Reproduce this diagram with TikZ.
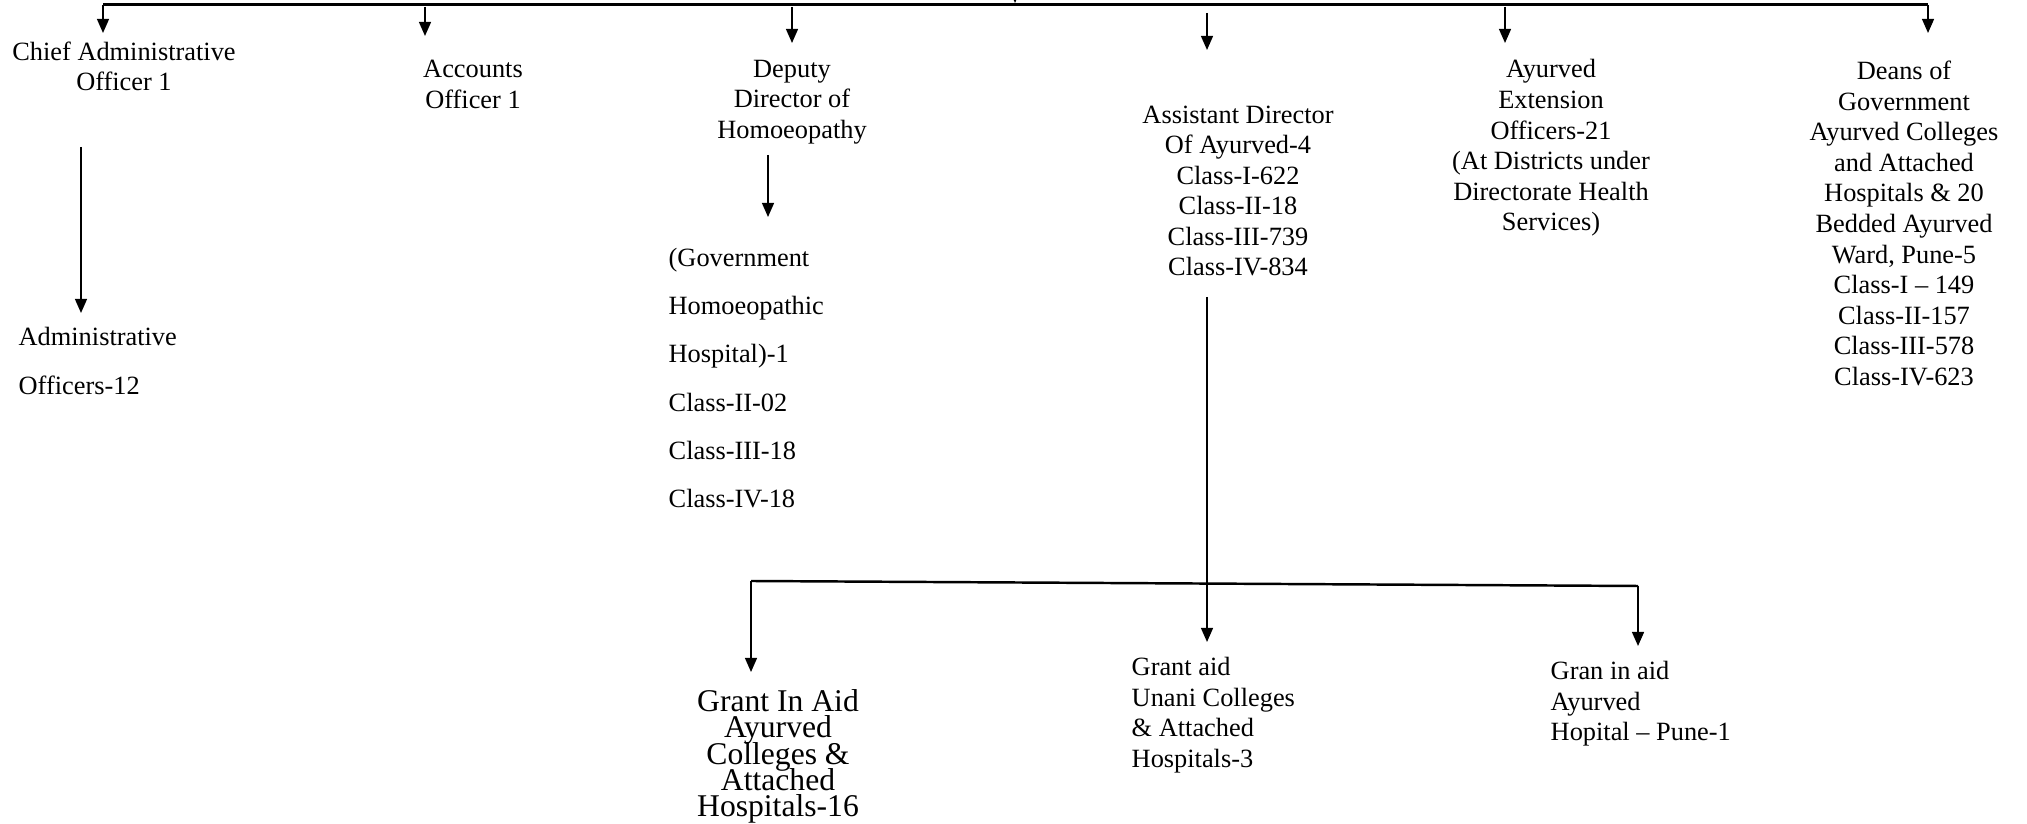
\documentclass[tikz,border=0pt]{standalone}
\usepackage{fontspec}
\setmainfont{Liberation Serif}
\usetikzlibrary{calc,arrows.meta}
\newcommand{\grantfont}{\fontsize{9}{7.5}\selectfont\setlength{\lineskiplimit}{-20pt}}

\begin{document}
\begin{tikzpicture}[
    txt/.style={inner sep=0pt, align=center, font=\fontsize{7.5}{8.7}\selectfont},
    txtl/.style={inner sep=0pt, align=left, font=\fontsize{7.5}{8.7}\selectfont},
    wide/.style={inner sep=0pt, align=left, font=\fontsize{7.5}{13.7}\selectfont},
    arr/.style={-{Triangle[length=4pt,width=3.4pt]}, line width=0.45pt}]
      \useasboundingbox (0,0) rectangle (20.27,-8.24);
      % top bar
      \coordinate (barL) at (1.03,-0.05);
      \coordinate (barR) at (19.28,-0.05);
      \draw[line width=0.85pt] (barL) -- (barR);
      \coordinate (up) at (10.15,0.4);
      \coordinate (upT) at (10.15,-0.03);
      \draw[arr] (up) -- (upT);
      % first row
      \node[txt] (chief) at (1.24,-0.665) {Chief Administrative\\Officer 1};
      \node[txt] (accounts) at (4.73,-0.845) {Accounts\\Officer 1};
      \node[txt] (deputy) at (7.92,-1.02) {Deputy\\Director of\\Homoeopathy};
      \node[txt] (asst) at (12.38,-1.91) {Assistant Director\\Of Ayurved-4\\Class-I-622\\Class-II-18\\Class-III-739\\Class-IV-834};
      \node[txt] (ext) at (15.51,-1.48) {Ayurved\\Extension\\Officers-21\\(At Districts under\\Directorate Health\\Services)};
      \node[txt] (deans) at (19.04,-2.235) {Deans of\\Government\\Ayurved Colleges\\and Attached\\Hospitals \& 20\\Bedded Ayurved\\Ward, Pune-5\\Class-I – 149\\Class-II-157\\Class-III-578\\Class-IV-623};
      \coordinate (tChief) at (1.03,-0.33);
      \coordinate (tAcc) at (4.25,-0.36);
      \coordinate (tDep) at (7.92,-0.43);
      \coordinate (tAsst) at (12.07,-0.50);
      \coordinate (tExt) at (15.05,-0.43);
      \coordinate (tDeans) at (19.28,-0.33);
      \draw[arr] (barL) -- (tChief);
      \draw[arr] ($(tAcc)+(0,0.29)$) -- (tAcc);
      \draw[arr] ($(tDep)+(0,0.36)$) -- (tDep);
      \draw[arr] ($(tAsst)+(0,0.37)$) -- (tAsst);
      \draw[arr] ($(tExt)+(0,0.36)$) -- (tExt);
      \draw[arr] (barR) -- (tDeans);
      % second row
      \node[wide, anchor=west] (admin) at (0.18,-3.61) {Administrative\\Officers-12};
      \node[wide, anchor=west] (homhosp) at (6.68,-3.78) {(Government\\Homoeopathic\\Hospital)-1\\Class-II-02\\Class-III-18\\Class-IV-18};
      \coordinate (sAdmin) at (0.81,-1.47);
      \coordinate (tAdmin) at (0.81,-3.13);
      \draw[arr] (sAdmin) -- (tAdmin);
      \coordinate (sHom) at (7.68,-1.55);
      \coordinate (tHom) at (7.68,-2.17);
      \draw[arr] (sHom) -- (tHom);
      % grant in aid
      \coordinate (sDown) at (12.07,-2.97);
      \coordinate (tUnani) at (12.07,-6.42);
      \draw[arr] (sDown) -- (tUnani);
      \coordinate (bL) at (7.51,-5.81);
      \coordinate (bR) at (16.38,-5.86);
      \draw[line width=0.7pt] (bL) -- (bR);
      \coordinate (tGrant) at (7.51,-6.72);
      \coordinate (tGran) at (16.38,-6.46);
      \draw[arr] (bL) -- (tGrant);
      \draw[arr] (bR) -- (tGran);
      \node[inner sep=0pt, align=center, font=\grantfont] (grant) at (7.78,-7.565) {Grant In Aid\\Ayurved\\Colleges \&\\Attached\\Hospitals-16};
      \node[txtl, anchor=west] (unani) at (11.31,-7.15) {Grant aid\\Unani Colleges\\\& Attached\\Hospitals-3};
      \node[txtl, anchor=west] (gran) at (15.50,-7.04) {Gran in aid\\Ayurved\\Hopital – Pune-1};
    \end{tikzpicture}
\end{document}
